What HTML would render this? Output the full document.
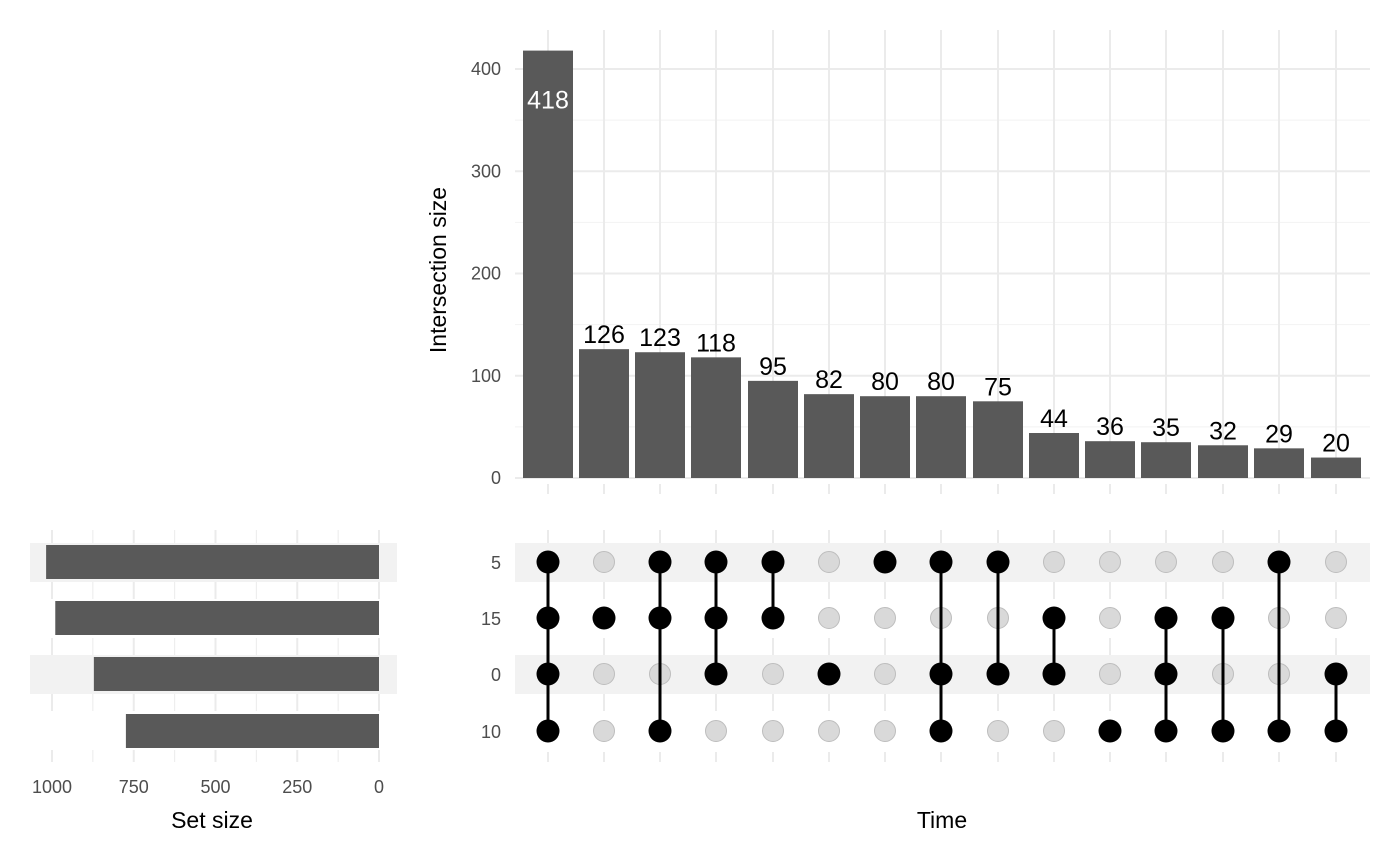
<!DOCTYPE html>
<html><head><meta charset="utf-8"><style>body{margin:0;background:#fff}svg{display:block}text{font-family:"Liberation Sans","DejaVu Sans",sans-serif}</style></head>
<body>
<svg id="s" width="1400" height="865" viewBox="0 0 1400 865" xmlns="http://www.w3.org/2000/svg">
<rect width="1400" height="865" fill="#fff"/>
<g id="g"></g>
</svg>
<script>
const NS="http://www.w3.org/2000/svg",g=document.getElementById('g');
function el(t,a,txt){const e=document.createElementNS(NS,t);for(const k in a)e.setAttribute(k,a[k]);if(txt!==undefined)e.textContent=txt;g.appendChild(e);return e;}
const cols=[548,604,660,716,773,829,885,941,998,1054,1110,1166,1223,1279,1336];
const vals=[418,126,123,118,95,82,80,80,75,44,36,35,32,29,20];
const Y=v=>478-v*1.0225;
for(let v=50;v<=400;v+=100)el('line',{x1:515,x2:1370,y1:Y(v),y2:Y(v),stroke:'#f2f2f2','stroke-width':1});
for(let v=0;v<=400;v+=100)el('line',{x1:515,x2:1370,y1:Y(v),y2:Y(v),stroke:'#ebebeb','stroke-width':2});
cols.forEach(x=>{el('line',{x1:x,x2:x,y1:30,y2:478,stroke:'#ebebeb','stroke-width':2});el('line',{x1:x,x2:x,y1:484,y2:494,stroke:'#ebebeb','stroke-width':2});});
for(let v=0;v<=400;v+=100)el('text',{x:501,y:Y(v)+6,'text-anchor':'end','font-size':18,fill:'#4d4d4d'},v);
el('text',{transform:'translate(446,270) rotate(-90)','text-anchor':'middle','font-size':23,fill:'#000'},'Intersection size');
cols.forEach((x,i)=>{const v=vals[i];el('rect',{x:x-25,y:Y(v),width:50,height:478-Y(v),fill:'#595959'});
 if(i==0)el('text',{x:x,y:Y(v)+58,'text-anchor':'middle','font-size':25,fill:'#fff'},v);
 else el('text',{x:x,y:Y(v)-6,'text-anchor':'middle','font-size':25,fill:'#000'},v);});
const rows=[562,618,674,731],rl=['5','15','0','10'];
[543,655].forEach(y=>{el('rect',{x:515,y:y,width:855,height:39,fill:'#f2f2f2'});el('rect',{x:30,y:y,width:367,height:39,fill:'#f2f2f2'});});
cols.forEach(x=>{el('line',{x1:x,x2:x,y1:530,y2:543,stroke:'#ebebeb','stroke-width':2});[582,638,694].forEach(y=>el('line',{x1:x,x2:x,y1:y,y2:y+17,stroke:'#ebebeb','stroke-width':2}));el('line',{x1:x,x2:x,y1:752,y2:762,stroke:'#ebebeb','stroke-width':2});});
rows.forEach((y,i)=>el('text',{x:501,y:y+7,'text-anchor':'end','font-size':18,fill:'#4d4d4d'},rl[i]));
const mem=[[0,1,2,3],[1],[0,1,3],[0,1,2],[0,1],[2],[0],[0,2,3],[0,2],[1,2],[3],[1,2,3],[1,3],[0,3],[2,3]];
cols.forEach((x,i)=>{rows.forEach((y,r)=>el('circle',{cx:x,cy:y,r:10.5,fill:'#d9d9d9',stroke:'#bdbdbd','stroke-width':1}));
 const m=mem[i];if(m.length>1)el('line',{x1:x,x2:x,y1:rows[m[0]],y2:rows[m[m.length-1]],stroke:'#000','stroke-width':3});
 m.forEach(r=>el('circle',{cx:x,cy:rows[r],r:11.5,fill:'#000'}));});
const X=v=>379-v*0.327;
for(let v=0;v<=1000;v+=125){const x=X(v);[530,582,638,694,750].forEach((y,k)=>el('line',{x1:x,x2:x,y1:k==0?530:y,y2:k==0?543:(k==4?762:y+17),stroke:'#ebebeb','stroke-width':v%250?1:2}));}
[1018,990,872,774].forEach((v,i)=>el('rect',{x:X(v),y:rows[i]-17,width:379-X(v),height:34,fill:'#595959'}));
[0,250,500,750,1000].forEach(v=>el('text',{x:X(v),y:793,'text-anchor':'middle','font-size':18,fill:'#4d4d4d'},v));
el('text',{x:212,y:828,'text-anchor':'middle','font-size':23,fill:'#000'},'Set size');
el('text',{x:942,y:828,'text-anchor':'middle','font-size':23,fill:'#000'},'Time');
</script>
</body></html>
